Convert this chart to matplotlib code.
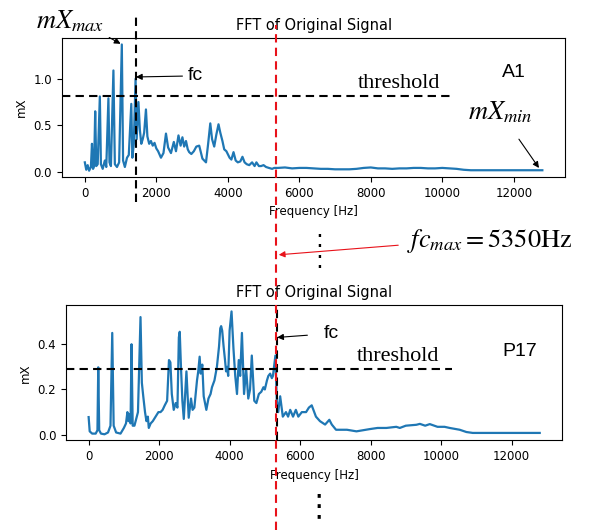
import matplotlib
matplotlib.use('Agg')
import matplotlib.pyplot as plt
from matplotlib.lines import Line2D
from matplotlib.patches import FancyArrowPatch
from matplotlib.transforms import blended_transform_factory

# spectrum of sample A1
freq_a1 = [0, 40, 80, 120, 170, 200, 230, 260, 290, 320, 360, 420, 450, 500, 560, 600,
           660, 690, 730, 800, 840, 900, 960, 1035, 1070, 1120, 1180, 1230, 1300, 1330,
           1370, 1420, 1450, 1500, 1540, 1580, 1620, 1660, 1710, 1750, 1800, 1850, 1900,
           1950, 2000, 2050, 2130, 2200, 2270, 2330, 2410, 2490, 2550, 2620, 2680, 2730,
           2780, 2830, 2880, 2920, 2980, 3050, 3120, 3200, 3290, 3390, 3450, 3510, 3560,
           3620, 3680, 3740, 3790, 3850, 3900, 3960, 4050, 4100, 4160, 4220, 4280, 4350,
           4410, 4470, 4530, 4600, 4680, 4750, 4800, 4870, 4930, 5000, 5070, 5150, 5240,
           5300, 5400, 5600, 5800, 6000, 6200, 6400, 6600, 6800, 7000, 7200, 7400, 7600,
           7800, 8000, 8200, 8400, 8600, 8800, 9000, 9200, 9400, 9600, 9800, 10000, 10200,
           10400, 10600, 10800, 11200, 12000, 12800]
mx_a1 = [0.10, 0.02, 0.07, 0.01, 0.05, 0.30, 0.03, 0.06, 0.65, 0.06, 0.08, 0.81, 0.08, 0.03,
         0.12, 0.05, 0.79, 0.10, 0.06, 1.09, 0.08, 0.05, 0.10, 1.37, 0.12, 0.05, 0.15, 0.18,
         0.73, 0.15, 0.30, 1.00, 0.35, 0.75, 0.45, 0.30, 0.35, 0.42, 0.67, 0.38, 0.30, 0.33,
         0.28, 0.31, 0.25, 0.22, 0.15, 0.20, 0.41, 0.26, 0.20, 0.32, 0.22, 0.39, 0.28, 0.37,
         0.27, 0.33, 0.24, 0.21, 0.19, 0.22, 0.27, 0.28, 0.14, 0.10, 0.30, 0.52, 0.35, 0.27,
         0.40, 0.51, 0.42, 0.33, 0.24, 0.22, 0.15, 0.13, 0.21, 0.12, 0.10, 0.11, 0.16, 0.10,
         0.08, 0.07, 0.10, 0.06, 0.10, 0.06, 0.06, 0.07, 0.05, 0.04, 0.03, 0.04, 0.04, 0.045,
         0.035, 0.04, 0.04, 0.035, 0.03, 0.03, 0.025, 0.025, 0.025, 0.03, 0.04, 0.045, 0.035,
         0.035, 0.03, 0.035, 0.035, 0.04, 0.04, 0.035, 0.035, 0.04, 0.035, 0.03, 0.02, 0.015,
         0.015, 0.015, 0.015]

# spectrum of sample P17
freq_p17 = [0, 30, 100, 200, 250, 273, 300, 350, 450, 550, 620, 670, 710, 780, 905, 1000,
            1060, 1100, 1130, 1160, 1190, 1217, 1250, 1300, 1350, 1400, 1472, 1510, 1550,
            1600, 1640, 1680, 1707, 1760, 1820, 1900, 1980, 2040, 2100, 2160, 2227, 2280,
            2320, 2360, 2415, 2470, 2520, 2560, 2585, 2620, 2660, 2700, 2775, 2840, 2905,
            2950, 3000, 3075, 3110, 3150, 3180, 3225, 3265, 3340, 3400, 3460, 3500, 3570,
            3640, 3700, 3735, 3760, 3790, 3830, 3870, 3900, 3930, 3960, 4000, 4055, 4110,
            4160, 4210, 4260, 4300, 4350, 4410, 4470, 4530, 4580, 4630, 4700, 4760, 4830,
            4900, 4960, 5000, 5060, 5100, 5150, 5200, 5230, 5300, 5340, 5380, 5435, 5510,
            5600, 5660, 5720, 5800, 5880, 5950, 6050, 6170, 6250, 6330, 6400, 6450, 6565,
            6710, 6830, 6900, 7020, 7330, 7600, 7980, 8200, 8450, 8730, 8830, 9000, 9300,
            9400, 9550, 9680, 9900, 10100, 10245, 10530, 10720, 10900, 12000, 12800]
mx_p17 = [0.078, 0.015, 0.005, 0.005, 0.02, 0.298, 0.02, 0.005, 0.002, 0.01, 0.04, 0.45,
          0.04, 0.01, 0.005, 0.03, 0.05, 0.10, 0.06, 0.09, 0.05, 0.40, 0.04, 0.04, 0.07,
          0.10, 0.52, 0.23, 0.17, 0.10, 0.06, 0.08, 0.03, 0.05, 0.06, 0.08, 0.10, 0.10,
          0.11, 0.13, 0.15, 0.33, 0.32, 0.18, 0.11, 0.14, 0.12, 0.43, 0.455, 0.30, 0.15,
          0.07, 0.28, 0.075, 0.16, 0.11, 0.12, 0.24, 0.28, 0.345, 0.27, 0.31, 0.17, 0.11,
          0.16, 0.18, 0.21, 0.24, 0.30, 0.39, 0.47, 0.48, 0.46, 0.39, 0.33, 0.28, 0.30, 0.26,
          0.46, 0.545, 0.38, 0.26, 0.18, 0.33, 0.26, 0.45, 0.18, 0.29, 0.16, 0.20, 0.35, 0.15,
          0.14, 0.18, 0.19, 0.21, 0.20, 0.24, 0.26, 0.27, 0.25, 0.26, 0.35, 0.15, 0.10, 0.17,
          0.08, 0.10, 0.08, 0.11, 0.08, 0.11, 0.08, 0.10, 0.10, 0.12, 0.13, 0.10, 0.08, 0.06,
          0.045, 0.066, 0.045, 0.022, 0.022, 0.015, 0.025, 0.03, 0.03, 0.035, 0.03, 0.04,
          0.044, 0.048, 0.04, 0.047, 0.035, 0.035, 0.03, 0.022, 0.012, 0.008, 0.008, 0.008]

fc_a1 = 1430
fc_max = 5350
thr_a1 = 0.82
thr_p17 = 0.29
thr_end = 10300
peak_a1 = (1035, 1.37)
min_a1 = (12750, 0.015)

W, H = 590, 530


def fp(x, y):
    # pixel position in the picture -> figure fraction
    return (x / W, 1 - y / H)


fig = plt.figure(figsize=(5.9, 5.3), dpi=100)
ax1 = fig.add_axes([0.105, 0.666, 0.853, 0.262])
ax2 = fig.add_axes([0.112, 0.169, 0.841, 0.255])

for ax, f, m in [(ax1, freq_a1, mx_a1), (ax2, freq_p17, mx_p17)]:
    ax.plot(f, m, color='#1f77b4', lw=1.6)
    ax.set_title('FFT of Original Signal', fontsize=10.5)
    ax.set_xlabel('Frequency [Hz]', fontsize=8.5)
    ax.set_ylabel('mX', fontsize=8.5)
    ax.tick_params(labelsize=8.5)
    ax.set_xlim(ax.get_xlim())
    ax.set_ylim(ax.get_ylim())

dash = dict(color='k', ls=(0, (4, 2.5)), lw=1.5, zorder=3)

# threshold lines
ax1.hlines(thr_a1, ax1.get_xlim()[0], thr_end, **dash)
ax2.hlines(thr_p17, ax2.get_xlim()[0], thr_end, **dash)

# cut-off frequencies
ax1.axvline(fc_a1, ymin=-0.18, ymax=1.165, clip_on=False, **dash)
ax2.axvline(fc_max, **dash)

# red line for the largest cut-off, runs through both plots
tr = blended_transform_factory(ax1.transData, fig.transFigure)
fig.add_artist(Line2D([fc_max, fc_max], [0, fp(0, 25)[1]], transform=tr,
                      color='#e8121a', ls=(0, (4, 2.5)), lw=1.5, zorder=5))

arrow = dict(arrowstyle='-|>', color='k', lw=0.8, mutation_scale=9, shrinkA=0, shrinkB=0)
serif = 'Liberation Serif'
sans = 'Liberation Sans'

ax1.annotate('$mX_{max}$', xy=peak_a1, xytext=fp(70, 21), textcoords='figure fraction',
             fontsize=19, math_fontfamily='stix', ha='center', va='center',
             arrowprops=dict(arrow, shrinkA=2, shrinkB=1, relpos=(0.95, 0.05)))
ax1.annotate('fc', xy=(fc_a1, 1.02), xytext=fp(188, 76), textcoords='figure fraction',
             fontsize=14, family=sans, ha='left', va='center',
             arrowprops=dict(arrow, shrinkA=2, shrinkB=0, relpos=(0, 0.5)))
ax1.text(7650, thr_a1 + 0.03, 'threshold', fontsize=16, family=serif,
         ha='left', va='bottom')
ax1.text(0.875, 0.755, 'A1', transform=ax1.transAxes, fontsize=14, family=sans,
         va='center')
ax1.annotate('$mX_{min}$', xy=min_a1, xytext=fp(500, 112), textcoords='figure fraction',
             fontsize=19, math_fontfamily='stix', ha='center', va='center',
             arrowprops=dict(arrow, shrinkA=10, shrinkB=2))

ax2.annotate('fc', xy=(fc_max, 0.43), xytext=fp(324, 334), textcoords='figure fraction',
             fontsize=14, family=sans, ha='left', va='center',
             arrowprops=dict(arrow, shrinkA=10, shrinkB=0, relpos=(0, 0.5)))
ax2.text(7620, thr_p17 + 0.015, 'threshold', fontsize=16, family=serif,
         ha='left', va='bottom')
ax2.text(0.88, 0.66, 'P17', transform=ax2.transAxes, fontsize=14, family=sans,
         va='center')

# label of the largest cut-off with red arrow
fig.text(*fp(407, 241), r'$fc_{max}=5350\mathrm{Hz}$', fontsize=19, math_fontfamily='stix',
         ha='left', va='center')
fig.add_artist(FancyArrowPatch(
    fp(401, 245), fp(276, 255), transform=fig.transFigure, arrowstyle='-|>',
    color='#e8121a', lw=0.8, mutation_scale=9))

# vertical dots meaning "more samples"
fig.text(*fp(319, 228), ':\n:', fontsize=17, ha='center', va='top', linespacing=0.85)
fig.text(*fp(319, 492), '\u22ee', fontsize=22, ha='center', va='top')

fig.savefig('out.png', dpi=100)
